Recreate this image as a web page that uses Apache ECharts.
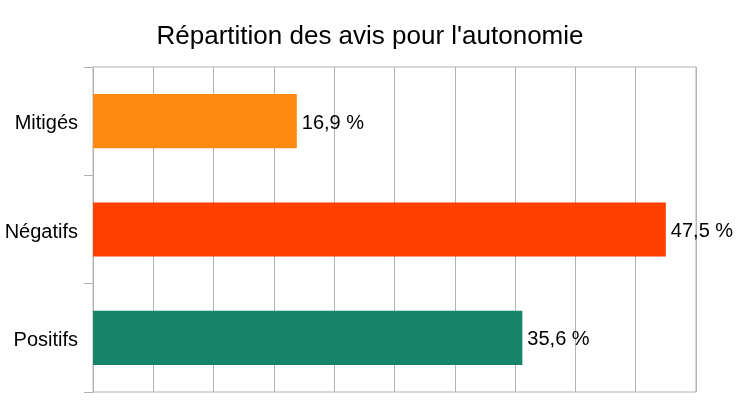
<!DOCTYPE html>
<html>
<head>
<meta charset="utf-8">
<script src="https://cdn.jsdelivr.net/npm/echarts@6/dist/echarts.min.js"></script>
<style>
  html, body { margin: 0; padding: 0; background: #fff; }
  #chart { width: 740px; height: 416px; }
</style>
</head>
<body>
<div id="chart"></div>
<script>
'use strict';

// ---- data (top to bottom as drawn) ----
const categories = ['Mitigés', 'Négatifs', 'Positifs'];
const values = [16.9, 47.5, 35.6];
const colors = ['#ff8a0f', '#ff4000', '#168468'];

const fr1 = new Intl.NumberFormat('fr-FR', { minimumFractionDigits: 1, maximumFractionDigits: 1 });
const font = 'Liberation Sans, Arial, sans-serif';
const gray = '#b3b3b3';
const txt = { fontFamily: font, fontSize: 20, color: '#000' };

const chart = echarts.init(document.getElementById('chart'));
chart.setOption({
  animation: false,
  title: {
    text: "Répartition des avis pour l'autonomie",
    left: 'center', top: 19,
    textStyle: { fontFamily: font, fontSize: 26, fontWeight: 'normal', color: '#000' },
  },
  grid: { left: 93, right: 44, top: 67, bottom: 24, show: true, borderColor: gray, borderWidth: 1 },
  xAxis: {
    type: 'value', min: 0, max: 50, interval: 5,
    axisLabel: { show: false }, axisTick: { show: false },
    axisLine: { show: false },
    splitLine: { lineStyle: { color: gray, width: 1 } },
  },
  yAxis: {
    type: 'category', inverse: true, data: categories,
    axisLine: { show: true, lineStyle: { color: gray } },
    axisTick: { show: true, inside: false, length: 9, lineStyle: { color: gray, width: 1 } },
    axisLabel: { ...txt, margin: 15, formatter: v => '{a|' + v + '}', rich: { a: { ...txt, padding: [5, 0, 0, 0] } } },
  },
  series: [{
    type: 'bar', barWidth: '50%',
    data: values.map((v, i) => ({ value: v, itemStyle: { color: colors[i] } })),
    label: { show: true, position: 'right', distance: 5, ...txt, offset: [0, 2],
      formatter: p => fr1.format(p.value) + ' %' },
  }],
});
</script>
</body>
</html>
